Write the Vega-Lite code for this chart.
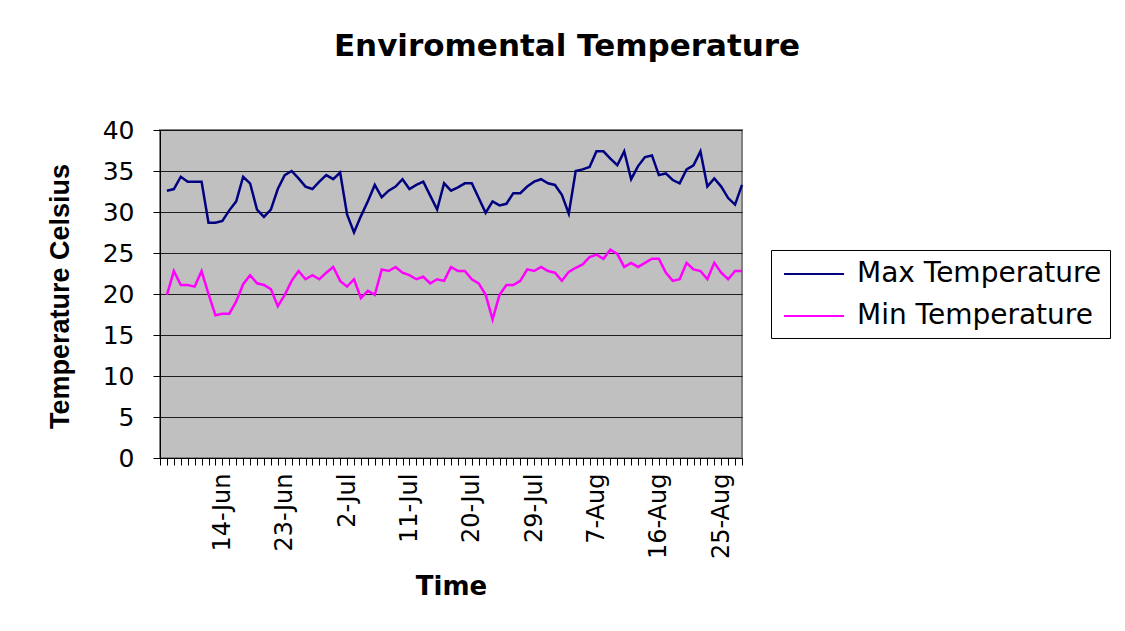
{
  "$schema": "https://vega.github.io/schema/vega-lite/v6.json",
  "autosize": "none",
  "width": 582,
  "height": 328,
  "padding": {"left": 160, "top": 130, "right": 383, "bottom": 173},
  "background": "white",
  "title": {
    "text": "Enviromental Temperature",
    "font": "DejaVu Sans",
    "fontSize": 31,
    "fontWeight": "bold",
    "color": "#000000",
    "anchor": "middle",
    "dx": 116,
    "offset": 31,
    "baseline": "alphabetic"
  },
  "data": {
    "values": [
      {"date": "2008-06-06", "max": 32.6, "min": 19.9},
      {"date": "2008-06-07", "max": 32.8, "min": 22.8},
      {"date": "2008-06-08", "max": 34.3, "min": 21.1},
      {"date": "2008-06-09", "max": 33.7, "min": 21.1},
      {"date": "2008-06-10", "max": 33.7, "min": 20.9},
      {"date": "2008-06-11", "max": 33.7, "min": 22.8},
      {"date": "2008-06-12", "max": 28.7, "min": 20.0},
      {"date": "2008-06-13", "max": 28.7, "min": 17.4},
      {"date": "2008-06-14", "max": 28.9, "min": 17.6},
      {"date": "2008-06-15", "max": 30.2, "min": 17.6},
      {"date": "2008-06-16", "max": 31.3, "min": 19.1},
      {"date": "2008-06-17", "max": 34.3, "min": 21.2},
      {"date": "2008-06-18", "max": 33.5, "min": 22.3},
      {"date": "2008-06-19", "max": 30.3, "min": 21.3},
      {"date": "2008-06-20", "max": 29.4, "min": 21.1},
      {"date": "2008-06-21", "max": 30.3, "min": 20.6},
      {"date": "2008-06-22", "max": 32.8, "min": 18.5},
      {"date": "2008-06-23", "max": 34.5, "min": 19.9},
      {"date": "2008-06-24", "max": 35.0, "min": 21.6},
      {"date": "2008-06-25", "max": 34.1, "min": 22.8},
      {"date": "2008-06-26", "max": 33.1, "min": 21.8},
      {"date": "2008-06-27", "max": 32.8, "min": 22.3},
      {"date": "2008-06-28", "max": 33.7, "min": 21.8},
      {"date": "2008-06-29", "max": 34.5, "min": 22.6},
      {"date": "2008-06-30", "max": 34.0, "min": 23.3},
      {"date": "2008-07-01", "max": 34.8, "min": 21.6},
      {"date": "2008-07-02", "max": 29.7, "min": 20.9},
      {"date": "2008-07-03", "max": 27.5, "min": 21.8},
      {"date": "2008-07-04", "max": 29.5, "min": 19.5},
      {"date": "2008-07-05", "max": 31.3, "min": 20.4},
      {"date": "2008-07-06", "max": 33.3, "min": 19.9},
      {"date": "2008-07-07", "max": 31.8, "min": 23.0},
      {"date": "2008-07-08", "max": 32.6, "min": 22.8},
      {"date": "2008-07-09", "max": 33.1, "min": 23.3},
      {"date": "2008-07-10", "max": 34.0, "min": 22.6},
      {"date": "2008-07-11", "max": 32.8, "min": 22.3},
      {"date": "2008-07-12", "max": 33.3, "min": 21.8},
      {"date": "2008-07-13", "max": 33.7, "min": 22.1},
      {"date": "2008-07-14", "max": 32.0, "min": 21.3},
      {"date": "2008-07-15", "max": 30.3, "min": 21.8},
      {"date": "2008-07-16", "max": 33.5, "min": 21.6},
      {"date": "2008-07-17", "max": 32.6, "min": 23.3},
      {"date": "2008-07-18", "max": 33.0, "min": 22.8},
      {"date": "2008-07-19", "max": 33.5, "min": 22.8},
      {"date": "2008-07-20", "max": 33.5, "min": 21.8},
      {"date": "2008-07-21", "max": 31.7, "min": 21.3},
      {"date": "2008-07-22", "max": 29.9, "min": 19.9},
      {"date": "2008-07-23", "max": 31.3, "min": 16.9},
      {"date": "2008-07-24", "max": 30.8, "min": 19.9},
      {"date": "2008-07-25", "max": 31.0, "min": 21.1},
      {"date": "2008-07-26", "max": 32.3, "min": 21.1},
      {"date": "2008-07-27", "max": 32.3, "min": 21.6},
      {"date": "2008-07-28", "max": 33.1, "min": 23.0},
      {"date": "2008-07-29", "max": 33.7, "min": 22.8},
      {"date": "2008-07-30", "max": 34.0, "min": 23.3},
      {"date": "2008-07-31", "max": 33.5, "min": 22.8},
      {"date": "2008-08-01", "max": 33.3, "min": 22.6},
      {"date": "2008-08-02", "max": 32.1, "min": 21.6},
      {"date": "2008-08-03", "max": 29.8, "min": 22.7},
      {"date": "2008-08-04", "max": 35.0, "min": 23.2},
      {"date": "2008-08-05", "max": 35.2, "min": 23.6},
      {"date": "2008-08-06", "max": 35.5, "min": 24.5},
      {"date": "2008-08-07", "max": 37.4, "min": 24.8},
      {"date": "2008-08-08", "max": 37.4, "min": 24.3},
      {"date": "2008-08-09", "max": 36.5, "min": 25.4},
      {"date": "2008-08-10", "max": 35.7, "min": 24.9},
      {"date": "2008-08-11", "max": 37.4, "min": 23.3},
      {"date": "2008-08-12", "max": 34.0, "min": 23.8},
      {"date": "2008-08-13", "max": 35.6, "min": 23.3},
      {"date": "2008-08-14", "max": 36.7, "min": 23.8},
      {"date": "2008-08-15", "max": 36.9, "min": 24.3},
      {"date": "2008-08-16", "max": 34.5, "min": 24.3},
      {"date": "2008-08-17", "max": 34.7, "min": 22.6},
      {"date": "2008-08-18", "max": 33.9, "min": 21.6},
      {"date": "2008-08-19", "max": 33.5, "min": 21.8},
      {"date": "2008-08-20", "max": 35.2, "min": 23.8},
      {"date": "2008-08-21", "max": 35.7, "min": 23.0},
      {"date": "2008-08-22", "max": 37.4, "min": 22.8},
      {"date": "2008-08-23", "max": 33.1, "min": 21.8},
      {"date": "2008-08-24", "max": 34.1, "min": 23.8},
      {"date": "2008-08-25", "max": 33.1, "min": 22.6},
      {"date": "2008-08-26", "max": 31.7, "min": 21.8},
      {"date": "2008-08-27", "max": 30.9, "min": 22.8},
      {"date": "2008-08-28", "max": 33.3, "min": 22.8}
    ]
  },
  "transform": [{"fold": ["max", "min"], "as": ["series", "value"]}],
  "mark": {"type": "line", "strokeWidth": 2.5, "interpolate": "linear"},
  "encoding": {
    "x": {
      "field": "date",
      "type": "temporal",
      "scale": {
        "type": "utc",
        "nice": false,
        "domain": [
          {"year": 2008, "month": 6, "date": 5, "utc": true},
          {"year": 2008, "month": 8, "date": 28, "utc": true}
        ]
      },
      "axis": {
        "title": "Time",
        "tickCount": {"interval": "day", "step": 1},
        "labelExpr": "(datum.value >= utc(2008,5,14) && round((datum.value - utc(2008,5,14))/86400000) % 9 == 0) ? utcFormat(datum.value, '%-d-%b') : ''",
        "labelAngle": -90,
        "labelOverlap": false,
        "labelFlush": false,
        "labelFont": "DejaVu Sans",
        "labelFontSize": 24,
        "labelColor": "#000000",
        "labelPadding": 8,
        "tickSize": 7,
        "tickColor": "#000000",
        "domainColor": "#000000",
        "domainWidth": 1,
        "grid": false,
        "titleFont": "DejaVu Sans",
        "titleFontSize": 26,
        "titleFontWeight": "bold",
        "titleColor": "#000000",
        "titleY": 136,
        "titleBaseline": "alphabetic"
      }
    },
    "y": {
      "field": "value",
      "type": "quantitative",
      "scale": {"domain": [0, 40], "nice": false},
      "axis": {
        "title": "Temperature Celsius",
        "values": [0, 5, 10, 15, 20, 25, 30, 35, 40],
        "grid": true,
        "gridColor": "#000000",
        "gridOpacity": 0.85,
        "domainColor": "#000000",
        "tickColor": "#000000",
        "tickSize": 7,
        "labelFont": "DejaVu Sans",
        "labelFontSize": 25,
        "labelColor": "#000000",
        "labelPadding": 19,
        "titleFont": "Liberation Sans",
        "titleFontSize": 27,
        "titleFontWeight": "bold",
        "titleColor": "#000000",
        "titleX": -100,
        "titleY": 166,
        "titleBaseline": "middle"
      }
    },
    "color": {
      "field": "series",
      "type": "nominal",
      "scale": {"domain": ["max", "min"], "range": ["#000080", "#FF00FF"]},
      "legend": {
        "title": null,
        "orient": "none",
        "legendX": 611,
        "legendY": 120,
        "strokeColor": "#000000",
        "fillColor": "#FFFFFF",
        "padding": 8,
        "symbolType": "M-0.73,0H3.27",
        "symbolSize": 900,
        "symbolStrokeWidth": 2,
        "labelExpr": "datum.label == 'max' ? 'Max Temperature' : 'Min Temperature'",
        "labelFont": "DejaVu Sans",
        "labelFontSize": 28,
        "labelColor": "#000000",
        "labelOffset": 46,
        "labelLimit": 400,
        "rowPadding": 12
      }
    }
  },
  "config": {
    "view": {"fill": "#C0C0C0", "stroke": "#808080", "strokeWidth": 2}
  }
}
